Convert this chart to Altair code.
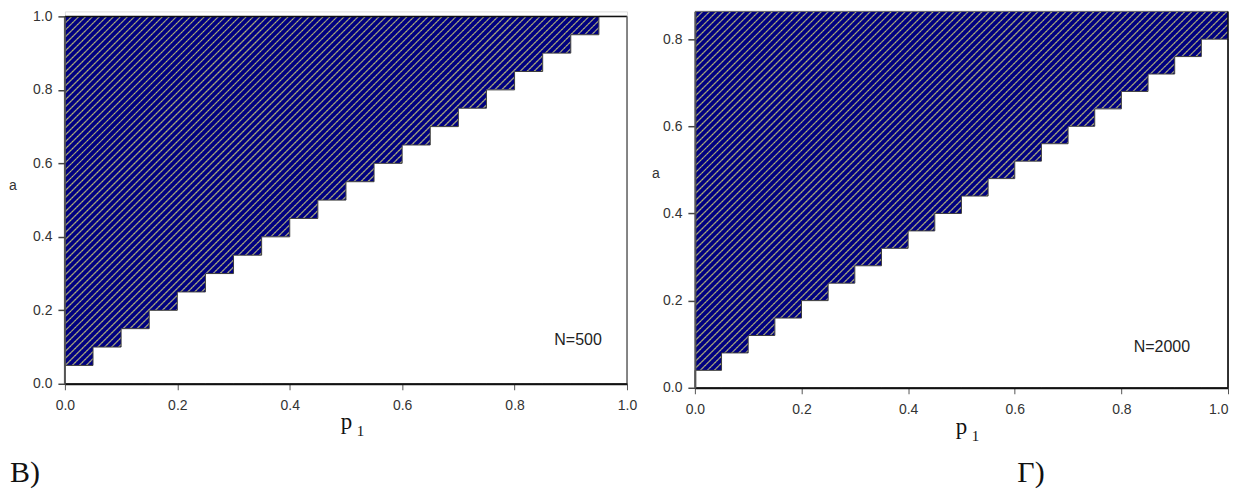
import altair as alt
import pandas as pd

# ---------------- data ----------------
# left panel (N=500): lower edge of the shaded region (step-after)
p1_left = [0.00, 0.05, 0.10, 0.15, 0.20, 0.25, 0.30, 0.35, 0.40, 0.45,
           0.50, 0.55, 0.60, 0.65, 0.70, 0.75, 0.80, 0.85, 0.90, 0.95, 1.00]
a_left = [0.05, 0.10, 0.15, 0.20, 0.25, 0.30, 0.35, 0.40, 0.45, 0.50,
          0.55, 0.60, 0.65, 0.70, 0.75, 0.80, 0.85, 0.90, 0.95, 1.00, 1.00]
top_left = 1.0

# right panel (N=2000)
p1_right = [0.00, 0.05, 0.10, 0.15, 0.20, 0.25, 0.30, 0.35, 0.40, 0.45,
            0.50, 0.55, 0.60, 0.65, 0.70, 0.75, 0.80, 0.85, 0.90, 0.95, 1.00]
a_right = [0.04, 0.08, 0.12, 0.16, 0.20, 0.24, 0.28, 0.32, 0.36, 0.40,
           0.44, 0.48, 0.52, 0.56, 0.60, 0.64, 0.68, 0.72, 0.76, 0.80, 0.80]

x_ticks = [0.0, 0.2, 0.4, 0.6, 0.8, 1.0]
y_ticks_left = [0.0, 0.2, 0.4, 0.6, 0.8, 1.0]
y_ticks_right = [0.0, 0.2, 0.4, 0.6, 0.8]

# ---------------- layout / style ----------------
WL, HL = 563, 373
YMAX_L = HL / 368
WR, HR = 534, 377
YMAX_R = HR / 436.5
top_right = YMAX_R

NAVY = "#00007f"
GRAY = "#888888"
YEL = "#e0e040"
SANS = "Liberation Sans"
SERIF = "Liberation Serif"
one = pd.DataFrame({"k": [0]})


def xaxis(flush_last=False):
    kw = {}
    if flush_last:
        kw["labelAlign"] = {"condition": {"test": "datum.value >= 1", "value": "right"},
                            "value": "center"}
    return alt.Axis(values=x_ticks, format=".1f", title=None, grid=False,
                    labelFont=SANS, labelFontSize=14, labelColor="#333",
                    labelFlush=False, labelOverlap=False,
                    tickColor="#555", tickSize=6, tickWidth=1,
                    domainColor="#111", domainWidth=2, labelPadding=9,
                    zindex=1, **kw)


def yaxis(vals, domain=True):
    return alt.Axis(values=vals, format=".1f", title=None, grid=False,
                    labelFont=SANS, labelFontSize=14, labelColor="#333",
                    labelFlush=False, labelOverlap=False,
                    tickColor="#444", tickSize=7, tickWidth=1.5,
                    domain=domain, domainColor="#555", domainWidth=2,
                    labelPadding=6, zindex=1)


def hatch(W, Ha, top, xs, ys, xa, ya, period=7.0):
    """45-degree '/' hatch lines, cut at the top of the shaded box, clipped to plot."""
    slope = W / Ha
    c0 = -slope
    dc = period / Ha
    n = int((top - c0) / dc) + 2
    base = alt.Chart(alt.sequence(0, n, as_="k")).transform_calculate(
        c=f"{c0} + datum.k * {dc}"
    ).transform_filter(
        f"datum.c < {top}"
    ).transform_calculate(
        x0="0",
        y0="datum.c",
        x1=f"min(1, ({top} - datum.c) / {slope})",
        y1=f"min(datum.c + {slope}, {top})",
    )
    enc = dict(x=alt.X("x0:Q", scale=xs, axis=xa), x2="x1:Q",
               y=alt.Y("y0:Q", scale=ys, axis=ya), y2="y1:Q")
    g = base.mark_rule(color=GRAY, strokeWidth=1.35, clip=True).encode(**enc)
    yl = base.mark_rule(color=YEL, strokeWidth=0.9, strokeDash=[1, 2.5],
                        clip=True).encode(**enc)
    return g, yl


def txt(text, x, y, font=SANS, size=14, color="#333", align="center",
        baseline="middle"):
    return alt.Chart(one).mark_text(
        text=text, font=font, fontSize=size, color=color, align=align,
        baseline=baseline).encode(x=alt.value(x), y=alt.value(y))


# ---------------- left panel ----------------
dfL = pd.DataFrame({"p1": p1_left, "a": a_left,
                    "top": [top_left] * len(p1_left), "zero": [0.0] * len(p1_left)})
xL = alt.Scale(domain=[0, 1], nice=False, zero=False)
yL = alt.Scale(domain=[0, YMAX_L], nice=False, zero=False)
xaL = xaxis()
yaL = yaxis(y_ticks_left, domain=False)

areaL = alt.Chart(dfL).mark_area(interpolate="step-after", fill=NAVY).encode(
    x=alt.X("p1:Q", scale=xL, axis=xaL),
    y=alt.Y("a:Q", scale=yL, axis=yaL),
    y2="top:Q",
)
hgL, hyL = hatch(WL, 368, top_left, xL, yL, xaL, yaL)
coverL = alt.Chart(dfL).mark_area(
    interpolate="step-after", fill="white", stroke="#3a3a3a", strokeWidth=1
).encode(
    x=alt.X("p1:Q", scale=xL, axis=xaL),
    y=alt.Y("a:Q", scale=yL, axis=yaL),
    y2="zero:Q",
)

yline = alt.Chart(one).mark_rule(color="#555", strokeWidth=2).encode(
    x=alt.datum(0.0), y=alt.datum(0.0), y2=alt.datum(top_left))
topline = alt.Chart(one).mark_rule(color="#111", strokeWidth=1.5).encode(
    x=alt.datum(0.0), x2=alt.datum(1.0), y=alt.datum(top_left))
rightline = alt.Chart(one).mark_rule(color="#777", strokeWidth=1).encode(
    x=alt.datum(1.0), y=alt.datum(0.0), y2=alt.datum(top_left))
nL = alt.Chart(one).mark_text(text="N=500", font=SANS, fontSize=16,
                              color="#222").encode(
    x=alt.datum(0.913), y=alt.datum(0.12))

left = alt.layer(
    areaL, hgL, hyL, coverL, yline, topline, rightline, nL,
    txt("a", -52, 175, size=14),
    txt("p", 282, 418, font=SERIF, size=23, color="#111", baseline="alphabetic"),
    txt("1", 296, 425, font=SERIF, size=15, color="#111", baseline="alphabetic"),
    txt("В)", -55, 471, font=SERIF, size=30, color="#111", align="left",
        baseline="alphabetic"),
).properties(width=WL, height=HL)

# ---------------- right panel ----------------
dfR = pd.DataFrame({"p1": p1_right, "a": a_right,
                    "top": [top_right] * len(p1_right), "zero": [0.0] * len(p1_right)})
xR = alt.Scale(domain=[0, 1], nice=False, zero=False)
yR = alt.Scale(domain=[0, YMAX_R], nice=False, zero=False)
xaR = xaxis(flush_last=True)
yaR = yaxis(y_ticks_right)

areaR = alt.Chart(dfR).mark_area(interpolate="step-after", fill=NAVY).encode(
    x=alt.X("p1:Q", scale=xR, axis=xaR),
    y=alt.Y("a:Q", scale=yR, axis=yaR),
    y2="top:Q",
)
hgR, hyR = hatch(WR, 436.5, top_right, xR, yR, xaR, yaR)
coverR = alt.Chart(dfR).mark_area(
    interpolate="step-after", fill="white", stroke="#3a3a3a", strokeWidth=1
).encode(
    x=alt.X("p1:Q", scale=xR, axis=xaR),
    y=alt.Y("a:Q", scale=yR, axis=yaR),
    y2="zero:Q",
)
topR = alt.Chart(one).mark_rule(color="#666", strokeWidth=1).encode(
    x=alt.datum(0.0), x2=alt.datum(1.0), y=alt.datum(top_right))
rightR = alt.Chart(one).mark_rule(color="#111", strokeWidth=1.5).encode(
    x=alt.datum(1.0), y=alt.datum(0.0), y2=alt.datum(top_right))
nR = alt.Chart(one).mark_text(text="N=2000", font=SANS, fontSize=16,
                              color="#222").encode(
    x=alt.datum(0.876), y=alt.datum(0.094))

right = alt.layer(
    areaR, hgR, hyR, coverR, topR, rightR, nR,
    txt("a", -39, 163, size=14),
    txt("p", 267, 423, font=SERIF, size=23, color="#111", baseline="alphabetic"),
    txt("1", 281, 430, font=SERIF, size=15, color="#111", baseline="alphabetic"),
    txt("Г)", 323, 471, font=SERIF, size=30, color="#111", align="left",
        baseline="alphabetic"),
).properties(width=WR, height=HR)

chart = alt.hconcat(left, right, spacing=68, bounds="flush").resolve_scale(
    x="independent", y="independent"
).properties(padding=0).configure_view(stroke=None).configure(background="white")

chart.save("out.html", embed_options={"renderer": "svg", "actions": False})
